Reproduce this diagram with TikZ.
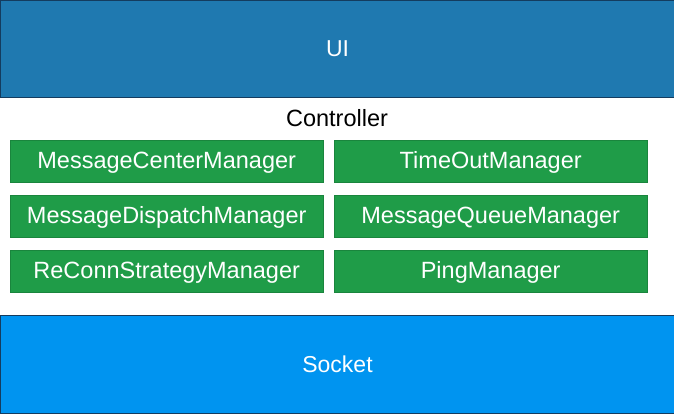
\documentclass[tikz,border=0pt]{standalone}
\usepackage{fontspec}
\setmainfont{Liberation Sans}
\usepackage{tikz}
\usetikzlibrary{positioning}

\definecolor{uiblue}{RGB}{31,121,176}
\definecolor{uiedge}{RGB}{20,60,95}
\definecolor{mgrgreen}{RGB}{31,156,72}
\definecolor{sockblue}{RGB}{0,148,240}

\tikzset{
  layer/.style={draw=uiedge,line width=1pt,minimum width=674pt,inner sep=0pt,text=white,font=\fontsize{23}{27}\selectfont},
  mgr/.style={fill=mgrgreen,draw=mgrgreen!85!black,line width=0.4pt,minimum width=313pt,minimum height=42pt,inner sep=0pt,text depth=2pt,text=white,font=\fontsize{23.5}{27}\selectfont},
}

\begin{document}
\begin{tikzpicture}[x=1pt,y=1pt,yscale=-1,xscale=1]
\useasboundingbox (0,0) rectangle (674,413);
\fill[white] (0,0) rectangle (674,413);
% top and bottom layers
\node[layer,fill=uiblue,minimum height=97pt,anchor=north west] (ui) at (0,0) {UI};
\node[layer,fill=sockblue,minimum height=98pt,anchor=north west] (socket) at (0,315) {Socket};
\draw (337,118) node [font=\fontsize{23.5}{27}\selectfont] (ctrl) {Controller};
% managers
\node[mgr,anchor=north west] (center) at (10,140) {MessageCenterManager};
\node[mgr,anchor=north west] (dispatch) at (10,195) {MessageDispatchManager};
\node[mgr,anchor=north west] (reconn) at (10,250) {ReConnStrategyManager};
\node[mgr,anchor=north west] (timeout) at (334,140) {TimeOutManager};
\node[mgr,anchor=north west] (queue) at (334,195) {MessageQueueManager};
\node[mgr,anchor=north west] (ping) at (334,250) {PingManager};
\end{tikzpicture}
\end{document}
